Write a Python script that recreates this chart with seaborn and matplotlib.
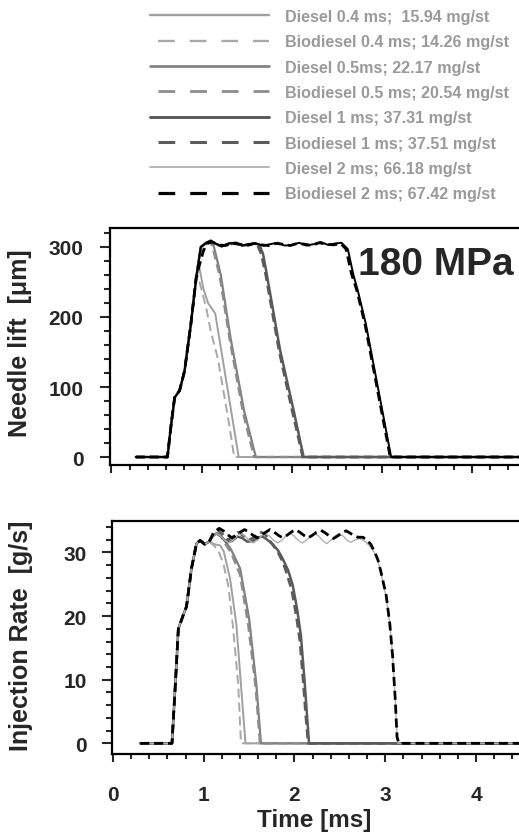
import matplotlib
matplotlib.use("Agg")
import matplotlib.pyplot as plt
from matplotlib.lines import Line2D
from matplotlib.ticker import MultipleLocator
import seaborn as sns

# ---------------------------------------------------------------- data
series_labels = [
    "Diesel 0.4 ms;  15.94 mg/st",
    "Biodiesel 0.4 ms; 14.26 mg/st",
    "Diesel 0.5ms; 22.17 mg/st",
    "Biodiesel 0.5 ms; 20.54 mg/st",
    "Diesel 1 ms; 37.31 mg/st",
    "Biodiesel 1 ms; 37.51 mg/st",
    "Diesel 2 ms; 66.18 mg/st",
    "Biodiesel 2 ms; 67.42 mg/st",
]

# needle lift [um] vs time [ms]: common opening ramp
lift_rise_t = [0.27, 0.62, 0.66, 0.70, 0.755, 0.81, 0.88, 0.94]
lift_rise_v = [0, 0, 45, 85, 95, 123, 190, 257]

lift_d04_t = [0.975, 1.02, 1.07, 1.15, 1.41, 4.6]
lift_d04_v = [270, 240, 220, 205, 0, 0]
lift_b04_t = [0.96, 1.00, 1.05, 1.10, 1.18, 1.30, 1.36, 4.6]
lift_b04_v = [258, 238, 213, 180, 140, 50, 0, 0]
lift_d05_t = [0.99, 1.05, 1.10, 1.13, 1.21, 1.32, 1.47, 1.60, 4.6]
lift_d05_v = [300, 305, 308, 303, 261, 170, 66, 0, 0]
lift_b05_t = [0.99, 1.05, 1.10, 1.12, 1.20, 1.31, 1.46, 1.58, 4.6]
lift_b05_v = [298, 304, 306, 300, 258, 168, 62, 0, 0]
lift_d1_t = [0.99, 1.05, 1.10, 1.15, 1.22, 1.30, 1.38, 1.45, 1.52, 1.60, 1.64,
             1.68, 1.72, 1.87, 2.02, 2.13, 4.6]
lift_d1_v = [300, 306, 309, 305, 301, 305, 306, 302, 304, 305, 303,
             290, 262, 152, 66, 0, 0]
lift_b1_t = [0.99, 1.05, 1.10, 1.15, 1.22, 1.30, 1.38, 1.45, 1.52, 1.58, 1.62,
             1.66, 1.71, 1.86, 2.01, 2.12, 4.6]
lift_b1_v = [298, 305, 308, 304, 301, 304, 305, 302, 303, 305, 302,
             290, 260, 150, 62, 0, 0]
lift_d2_t = [0.99, 1.05, 1.10, 1.15, 1.22, 1.30, 1.38, 1.45, 1.52, 1.60, 1.68,
             1.76, 1.84, 1.92, 2.00, 2.08, 2.16, 2.24, 2.32, 2.40, 2.48, 2.55,
             2.62, 2.68, 2.73, 2.82, 3.10, 4.6]
lift_d2_v = [300, 306, 309, 305, 301, 305, 306, 302, 304, 305, 302,
             304, 306, 302, 303, 306, 302, 304, 307, 303, 305, 306,
             297, 261, 238, 190, 0, 0]
lift_b2_t = [0.97, 1.02, 1.07, 1.12, 1.18, 1.26, 1.34, 1.42, 1.50, 1.58, 1.66,
             1.74, 1.82, 1.90, 1.98, 2.06, 2.14, 2.22, 2.30, 2.38, 2.46, 2.54,
             2.60, 2.66, 2.72, 2.81, 3.09, 4.6]
lift_b2_v = [272, 295, 306, 307, 303, 302, 305, 304, 302, 305, 303,
             302, 305, 304, 302, 305, 304, 302, 306, 304, 303, 305,
             297, 262, 238, 190, 0, 0]

# injection rate [g/s] vs time [ms]: common opening ramp
rate_rise_t = [0.30, 0.65, 0.69, 0.72, 0.77, 0.81, 0.865, 0.92, 0.96, 1.01, 1.06]
rate_rise_v = [0, 0, 10, 18, 20, 21.5, 27.5, 31.4, 31.9, 31.3, 31.7]

rate_d04_t = [1.12, 1.18, 1.22, 1.29, 1.36, 1.41, 1.46, 4.6]
rate_d04_v = [31.3, 31.1, 30.2, 25.9, 18.6, 9.2, 0, 0]
rate_b04_t = [1.12, 1.17, 1.22, 1.27, 1.32, 1.38, 1.41, 4.6]
rate_b04_v = [31.0, 30.0, 28.0, 24.8, 18.6, 9.2, 0, 0]
rate_d05_t = [1.10, 1.14, 1.18, 1.23, 1.30, 1.40, 1.50, 1.58, 1.63, 4.6]
rate_d05_v = [32.6, 33.0, 32.8, 31.9, 30.5, 27.5, 19.6, 9.2, 0, 0]
rate_b05_t = [1.10, 1.14, 1.18, 1.23, 1.30, 1.40, 1.49, 1.57, 1.62, 4.6]
rate_b05_v = [32.8, 33.3, 32.8, 31.5, 30.0, 26.5, 18.6, 9.0, 0, 0]
rate_d1_t = [1.10, 1.14, 1.19, 1.25, 1.31, 1.37, 1.42, 1.48, 1.54, 1.60, 1.65,
             1.70, 1.76, 1.82, 1.87, 1.93, 1.98, 2.03, 2.07, 2.11, 2.13, 2.16, 4.6]
rate_d1_v = [32.6, 33.0, 32.5, 31.6, 31.8, 32.5, 32.3, 31.7, 31.8, 32.4, 32.5,
             32.0, 31.3, 30.3, 29.0, 27.2, 24.9, 21.0, 17.0, 10.0, 6.0, 0, 0]
rate_b1_t = [1.10, 1.15, 1.20, 1.26, 1.32, 1.38, 1.44, 1.50, 1.56, 1.62, 1.67,
             1.72, 1.77, 1.82, 1.87, 1.92, 1.97, 2.02, 2.06, 2.10, 2.12, 2.15, 4.6]
rate_b1_v = [33.0, 33.6, 33.0, 32.0, 32.4, 33.2, 32.6, 32.0, 32.4, 33.2, 33.0,
             32.0, 31.0, 30.0, 28.5, 26.5, 24.0, 20.0, 16.0, 9.0, 5.0, 0, 0]
rate_d2_t = [1.10, 1.14, 1.185, 1.23, 1.275, 1.32, 1.365, 1.41, 1.455, 1.50,
             1.545, 1.59, 1.635, 1.68, 1.725, 1.77, 1.815, 1.86, 1.905, 1.95,
             1.995, 2.04, 2.085, 2.13, 2.175, 2.22, 2.265, 2.31, 2.355, 2.40,
             2.445, 2.49, 2.535, 2.58, 2.625, 2.67, 2.71, 2.75, 2.79, 2.84,
             2.88, 2.92, 2.95, 2.98, 3.01, 3.05, 3.08, 3.11, 3.13, 3.14, 4.6]
rate_d2_v = [32.5, 33.0, 32.6, 31.9, 31.5, 31.9, 32.6, 33.0, 32.6, 31.9,
             31.5, 31.9, 32.6, 33.0, 32.6, 31.9, 31.5, 31.9, 32.6, 33.0,
             32.6, 31.9, 31.5, 31.9, 32.6, 33.0, 32.6, 31.9, 31.4, 31.9,
             32.6, 33.0, 32.6, 31.9, 31.6, 32.0, 32.2, 32.0, 31.6, 30.8,
             30.0, 28.6, 27.0, 25.0, 23.0, 18.8, 13.9, 7.0, 1.0, 0, 0]
rate_b2_t = [1.10, 1.17, 1.217, 1.263, 1.31, 1.357, 1.403, 1.45, 1.497, 1.543,
             1.59, 1.637, 1.683, 1.73, 1.777, 1.823, 1.87, 1.917, 1.963, 2.01,
             2.057, 2.103, 2.15, 2.197, 2.243, 2.29, 2.337, 2.383, 2.43, 2.477,
             2.523, 2.57, 2.617, 2.66, 2.70, 2.75, 2.79, 2.84, 2.88, 2.92,
             2.95, 2.98, 3.01, 3.05, 3.08, 3.11, 3.13, 3.15, 4.6]
rate_b2_v = [32.8, 33.8, 33.4, 32.8, 32.3, 32.7, 33.2, 33.6, 33.2, 32.7,
             32.3, 32.7, 33.2, 33.6, 33.2, 32.7, 32.3, 32.7, 33.2, 33.6,
             33.2, 32.7, 32.3, 32.7, 33.2, 33.5, 33.1, 32.6, 32.2, 32.6,
             33.1, 33.4, 33.0, 32.6, 32.4, 32.4, 32.1, 31.3, 30.2, 28.8,
             27.1, 25.2, 23.3, 18.8, 13.9, 7.0, 1.0, 0, 0]

pressure_label = "180 MPa"

# ---------------------------------------------------------------- style
sns.set_style("ticks")
plt.rcParams["font.family"] = ["Liberation Sans", "DejaVu Sans"]
plt.rcParams["font.weight"] = "bold"
plt.rcParams["lines.scale_dashes"] = False

SOLID = "-"
DASH = (0, (6.5, 3.5))
# colour, line width (pt), dash style for each series
styles = [
    ("#a0a0a0", 1.4, SOLID),
    ("#a8a8a8", 1.4, DASH),
    ("#808080", 1.6, SOLID),
    ("#8c8c8c", 1.7, DASH),
    ("#5a5a5a", 1.8, SOLID),
    ("#5a5a5a", 1.9, DASH),
    ("#b0b0b0", 1.0, SOLID),
    ("#000000", 2.0, DASH),
]

fig = plt.figure(figsize=(5.19, 8.37), dpi=100)
W, H = 519.0, 837.0
ax_lift = fig.add_axes([110 / W, (H - 466) / H, 415 / W, 237 / H])
ax_rate = fig.add_axes([112 / W, (H - 755) / H, 413 / W, 233 / H])

lift_series = [
    (lift_d04_t, lift_d04_v), (lift_b04_t, lift_b04_v),
    (lift_d05_t, lift_d05_v), (lift_b05_t, lift_b05_v),
    (lift_d1_t, lift_d1_v), (lift_b1_t, lift_b1_v),
    (lift_d2_t, lift_d2_v), (lift_b2_t, lift_b2_v),
]
rate_series = [
    (rate_d04_t, rate_d04_v), (rate_b04_t, rate_b04_v),
    (rate_d05_t, rate_d05_v), (rate_b05_t, rate_b05_v),
    (rate_d1_t, rate_d1_v), (rate_b1_t, rate_b1_v),
    (rate_d2_t, rate_d2_v), (rate_b2_t, rate_b2_v),
]

for i, (t, v) in enumerate(lift_series):
    color, lw, ls = styles[i]
    if i == 6:  # long diesel trace is drawn solid black in the lift panel
        color, lw = "#000000", 1.4
    sns.lineplot(x=lift_rise_t + t, y=lift_rise_v + v, ax=ax_lift,
                 color=color, lw=lw, linestyle=ls, estimator=None, sort=False)

for i, (t, v) in enumerate(rate_series):
    color, lw, ls = styles[i]
    sns.lineplot(x=rate_rise_t + t, y=rate_rise_v + v, ax=ax_rate,
                 color=color, lw=lw, linestyle=ls, estimator=None, sort=False)

# ---------------------------------------------------------------- axes
ax_lift.set_xlim(-0.0166, 4.584)
ax_lift.set_ylim(-11.4, 327.1)
ax_rate.set_xlim(-0.011, 4.54)
ax_rate.set_ylim(-1.68, 34.95)

for ax in (ax_lift, ax_rate):
    ax.xaxis.set_major_locator(MultipleLocator(1))
    ax.xaxis.set_minor_locator(MultipleLocator(0.2))
    for side in ("left", "top", "bottom", "right"):
        ax.spines[side].set_linewidth(1.6)
        ax.spines[side].set_color("black")
    ax.tick_params(axis="x", which="major", direction="out", length=6,
                   width=1.5, pad=16, labelsize=15)
    ax.tick_params(axis="x", which="minor", direction="out", length=3.8,
                   width=1.5)
    ax.tick_params(axis="y", which="major", direction="out", length=7.2,
                   width=1.5, labelsize=15)
    ax.tick_params(axis="y", which="minor", direction="out", length=4.3,
                   width=1.5)
    ax.set_xlabel("")
    ax.set_ylabel("")

ax_lift.yaxis.set_major_locator(MultipleLocator(100))
ax_lift.yaxis.set_minor_locator(MultipleLocator(20))
ax_lift.tick_params(axis="y", which="major", pad=12)
ax_lift.tick_params(axis="x", which="both", labelbottom=False)

ax_rate.yaxis.set_major_locator(MultipleLocator(10))
ax_rate.yaxis.set_minor_locator(MultipleLocator(2))
ax_rate.tick_params(axis="y", which="major", pad=11)

for lab in ax_lift.get_yticklabels() + ax_rate.get_yticklabels() + ax_rate.get_xticklabels():
    lab.set_fontweight("bold")

ax_lift.set_ylabel("Needle lift  [\u03bcm]", fontsize=18, fontweight="bold")
ax_lift.yaxis.set_label_coords(-0.188, 0.519)
ax_rate.set_ylabel("Injection Rate  [g/s]", fontsize=18, fontweight="bold")
ax_rate.yaxis.set_label_coords(-0.191, 0.513)
ax_rate.set_xlabel("Time [ms]", fontsize=17.5, fontweight="bold")
ax_rate.xaxis.set_label_coords(0.489, -0.232)

ax_lift.text(2.73, 261, pressure_label, fontsize=28, fontweight="bold",
             ha="left", va="baseline", zorder=5)

# ---------------------------------------------------------------- legend
LEG_DASH = (17, (12, 10.8))
handles = []
for color, lw, ls in styles:
    handles.append(Line2D([], [], color=color, lw=lw + 0.3,
                          linestyle=SOLID if ls == SOLID else LEG_DASH))
leg = fig.legend(handles, series_labels, loc="upper left",
                 bbox_to_anchor=(150 / W, 1 - 10 / H), frameon=False,
                 borderaxespad=0, borderpad=0, handlelength=7.4,
                 handletextpad=0.95, labelspacing=0.64,
                 prop={"size": 11.6, "weight": "bold"})
for txt in leg.get_texts():
    txt.set_color("#9a9a9a")

fig.savefig("out.png", dpi=100)
